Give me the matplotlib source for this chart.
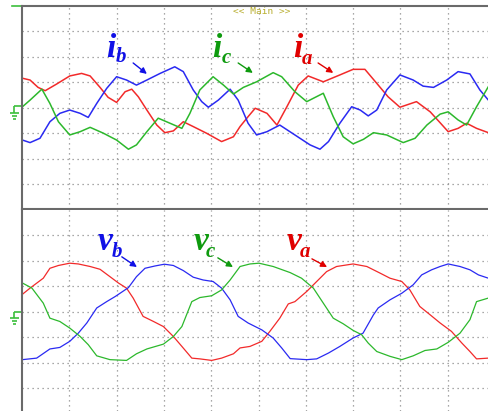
import matplotlib
matplotlib.use("Agg")
import matplotlib.pyplot as plt

# time in scope divisions, amplitude in vertical divisions
t_ia = [0.01, 0.17, 0.34, 0.49, 0.73, 1.01, 1.26, 1.44, 1.65, 1.82, 2.00, 2.18, 2.32, 2.46, 2.64,
        2.85, 3.02, 3.20, 3.41, 3.62, 3.90, 4.22, 4.47, 4.61, 4.78, 4.93, 5.18, 5.39, 5.60, 5.84,
        6.05, 6.37, 6.72, 7.00, 7.25, 7.50, 7.74, 7.99, 8.34, 8.63, 8.84, 9.01, 9.22, 9.40, 9.61, 9.86]
ia = [1.16, 1.09, 0.80, 0.67, 0.93, 1.25, 1.35, 1.25, 0.80, 0.41, 0.21, 0.63, 0.73, 0.43, -0.09,
      -0.68, -0.98, -0.91, -0.55, -0.74, -1.00, -1.33, -1.14, -0.74, -0.35, -0.02, -0.22, -0.68, 0.04, 0.89,
      1.25, 1.02, 1.29, 1.51, 1.51, 0.96, 0.43, 0.02, 0.24, -0.16, -0.59, -0.94, -0.81, -0.61, -0.81, -0.98]

t_ib = [0.01, 0.17, 0.38, 0.59, 0.80, 1.01, 1.23, 1.40, 1.58, 1.79, 2.00, 2.21, 2.42, 2.64, 2.92,
        3.23, 3.41, 3.62, 3.80, 3.94, 4.15, 4.40, 4.57, 4.78, 4.96, 5.18, 5.45, 5.77, 6.09, 6.30,
        6.48, 6.72, 6.97, 7.15, 7.32, 7.50, 7.71, 7.99, 8.27, 8.48, 8.70, 8.98, 9.22, 9.47, 9.68, 9.86]
ib = [-1.27, -1.37, -1.20, -0.55, -0.22, -0.09, -0.22, -0.38, 0.17, 0.76, 1.22, 1.09, 0.89, 1.09, 1.35,
      1.61, 1.42, 0.70, 0.24, 0.02, 0.30, 0.73, 0.30, -0.61, -1.07, -0.94, -0.68, -1.07, -1.46, -1.63,
      -1.33, -0.61, 0.04, -0.09, -0.32, -0.09, 0.70, 1.29, 1.09, 0.85, 0.80, 1.09, 1.42, 1.33, 0.70, 0.30]

t_ic = [0.01, 0.17, 0.42, 0.59, 0.77, 1.01, 1.23, 1.44, 1.72, 2.00, 2.25, 2.42, 2.64, 2.88, 3.13,
        3.38, 3.55, 3.76, 4.04, 4.26, 4.47, 4.68, 4.96, 5.31, 5.49, 5.77, 6.02, 6.37, 6.58, 6.79,
        7.00, 7.22, 7.43, 7.71, 8.06, 8.31, 8.56, 8.84, 9.01, 9.22, 9.40, 9.61, 9.86]
ic = [0.04, 0.30, 0.73, 0.17, -0.55, -1.07, -0.94, -0.77, -1.00, -1.27, -1.63, -1.46, -0.94, -0.41, -0.61,
      -0.81, -0.22, 0.70, 1.22, 0.89, 0.54, 0.80, 1.02, 1.38, 1.22, 0.63, 0.24, 0.57, -0.35, -1.14,
      -1.42, -1.24, -0.98, -1.07, -1.37, -1.20, -0.68, -0.25, -0.16, -0.48, -0.68, 0.04, 0.83]

t_va = [0.01, 0.17, 0.45, 0.59, 0.77, 1.01, 1.19, 1.44, 1.65, 1.86, 2.04, 2.21, 2.35, 2.56, 2.78,
        2.99, 3.20, 3.38, 3.59, 3.76, 4.01, 4.22, 4.47, 4.61, 4.82, 5.07, 5.24, 5.45, 5.63, 5.77,
        6.02, 6.23, 6.44, 6.65, 7.00, 7.29, 7.57, 7.78, 8.03, 8.20, 8.41, 8.63, 8.84, 9.08, 9.30,
        9.47, 9.61, 9.86]
va = [0.69, 0.93, 1.32, 1.71, 1.82, 1.91, 1.88, 1.78, 1.67, 1.38, 1.13, 0.93, 0.54, -0.18, -0.38,
      -0.58, -0.97, -1.36, -1.82, -1.85, -1.91, -1.82, -1.65, -1.42, -1.36, -1.16, -0.77, -0.25, 0.31, 0.40,
      0.80, 1.19, 1.58, 1.78, 1.88, 1.78, 1.52, 1.32, 1.19, 0.86, 0.21, -0.12, -0.44, -0.77, -1.23,
      -1.56, -1.85, -1.82]

t_vb = [0.01, 0.31, 0.59, 0.80, 1.01, 1.19, 1.37, 1.58, 1.79, 1.97, 2.25, 2.42, 2.60, 2.81, 3.01,
        3.20, 3.41, 3.62, 3.83, 4.04, 4.22, 4.40, 4.57, 4.78, 5.07, 5.31, 5.49, 5.67, 6.02, 6.23,
        6.48, 6.72, 7.00, 7.21, 7.43, 7.53, 7.78, 8.03, 8.27, 8.45, 8.66, 8.84, 9.01, 9.26, 9.47,
        9.65, 9.86]
vb = [-1.88, -1.82, -1.46, -1.40, -1.16, -0.84, -0.44, 0.15, 0.40, 0.60, 0.95, 1.38, 1.71, 1.80, 1.87,
      1.82, 1.62, 1.36, 1.25, 1.19, 0.93, 0.47, -0.18, -0.44, -0.71, -1.03, -1.42, -1.84, -1.88, -1.85,
      -1.62, -1.36, -1.03, -0.84, -0.12, 0.15, 0.47, 0.73, 1.06, 1.45, 1.65, 1.78, 1.88, 1.78, 1.65,
      1.45, 1.32]

t_vc = [0.01, 0.21, 0.45, 0.59, 0.80, 1.01, 1.23, 1.40, 1.58, 1.86, 2.21, 2.42, 2.64, 2.99, 3.20,
        3.38, 3.59, 3.76, 4.01, 4.22, 4.40, 4.61, 4.82, 5.01, 5.31, 5.67, 5.91, 6.16, 6.37, 6.58,
        6.79, 7.00, 7.18, 7.32, 7.50, 7.78, 8.03, 8.27, 8.52, 8.77, 9.01, 9.26, 9.47, 9.61, 9.86]
vc = [1.13, 0.93, 0.34, -0.25, -0.38, -0.64, -0.97, -1.29, -1.73, -1.88, -1.91, -1.65, -1.46, -1.27, -0.97,
      -0.58, 0.40, 0.56, 0.63, 0.86, 1.25, 1.78, 1.88, 1.91, 1.78, 1.54, 1.32, 0.93, 0.34, -0.25,
      -0.47, -0.73, -0.90, -1.23, -1.56, -1.75, -1.88, -1.73, -1.52, -1.46, -1.20, -0.84, -0.31, 0.40, 0.54]

RED, BLUE, GREEN = "#f22a2a", "#2a2af2", "#2cb82c"
LBL = {"r": "#e00000", "b": "#1010e6", "g": "#0e9a0e"}
BORDER = "#6a6a6a"
W, H = 488, 411
DIV_X, DIV_Y = 47.3, 25.45
XMAX = (W - 22) / DIV_X


def setup(ax, ybot, ytop, top_edge):
    ax.set_xlim(0, XMAX)
    ax.set_ylim(ybot, ytop)
    ax.set_xticks(range(1, 10))
    ax.set_yticks(range(-3, 4))
    ax.tick_params(length=0, labelbottom=False, labelleft=False)
    ax.grid(True, ls=(0, (1, 3)), lw=0.9, color="#8c8c8c")
    ax.set_axisbelow(True)
    for side in ("right", "bottom", "top"):
        ax.spines[side].set_visible(False)
    ax.spines["left"].set(color=BORDER, lw=1.5)
    if top_edge:
        ax.spines["top"].set(visible=True, color=BORDER, lw=1.5)


def ground(ax, y0):
    # channel offset marker drawn just left of the screen
    kw = dict(color="#3cbf3c", lw=1.2, clip_on=False, solid_capstyle="butt")
    ax.plot([-0.16, 0], [y0, y0], **kw)
    ax.plot([-0.16, -0.16], [y0, y0 - 0.25], **kw)
    ax.plot([-0.25, -0.07], [y0 - 0.25, y0 - 0.25], **kw)
    ax.plot([-0.22, -0.10], [y0 - 0.37, y0 - 0.37], **kw)
    ax.plot([-0.19, -0.13], [y0 - 0.48, y0 - 0.48], **kw)


def tag(ax, x, y, main, sub, color, dx, dy, arrow):
    font = dict(family="Liberation Serif", weight="bold", style="italic", color=color)
    ax.text(x, y, main, fontsize=24, ha="left", va="baseline", **font)
    ax.annotate(sub, (x, y), xytext=(dx, dy), textcoords="offset points",
                fontsize=15, ha="left", va="baseline", **font)
    ax.annotate("", xy=arrow[1], xytext=arrow[0],
                arrowprops=dict(arrowstyle="-|>", color=color, lw=1.0,
                                mutation_scale=9, shrinkA=0, shrinkB=0))


fig = plt.figure(figsize=(W / 100, H / 100), dpi=100)
fig.patch.set_facecolor("white")

ax1 = fig.add_axes([22 / W, 1 - 209.5 / H, (W - 22) / W, 203.5 / H])
setup(ax1, -4, 4, True)
ax1.spines["bottom"].set(visible=True, color=BORDER, lw=1.5)
ax1.plot(t_ia, ia, color=RED, lw=1.1)
ax1.plot(t_ib, ib, color=BLUE, lw=1.1)
ax1.plot(t_ic, ic, color=GREEN, lw=1.1)
ground(ax1, 0.05)
ax1.plot([-0.21, -0.02], [4, 4], color="#3cbf3c", lw=1.2, clip_on=False)

tag(ax1, 1.77, 1.99, "i", "b", LBL["b"], 7.0, -3.6, ((2.35, 1.76), (2.64, 1.33)))
tag(ax1, 4.02, 1.99, "i", "c", LBL["g"], 7.0, -4.3, ((4.57, 1.76), (4.88, 1.37)))
tag(ax1, 5.73, 1.99, "i", "a", LBL["r"], 6.6, -4.6, ((6.26, 1.76), (6.58, 1.37)))

ax2 = fig.add_axes([22 / W, 0, (W - 22) / W, 201 / H])
setup(ax2, 4 - 201 / DIV_Y, 4, False)
ax2.plot(t_va, va, color=RED, lw=0.9)
ax2.plot(t_vb, vb, color=BLUE, lw=0.9)
ax2.plot(t_vc, vc, color=GREEN, lw=0.9)
ground(ax2, 0.0)

tag(ax2, 1.59, 2.43, "v", "b", LBL["b"], 10.8, -5.0, ((2.11, 2.16), (2.43, 1.76)))
tag(ax2, 3.63, 2.43, "v", "c", LBL["g"], 8.4, -5.2, ((4.14, 2.12), (4.46, 1.76)))
tag(ax2, 5.60, 2.43, "v", "a", LBL["r"], 9.4, -5.2, ((6.13, 2.08), (6.45, 1.76)))

fig.text(261.5 / W, 1 - 11 / H, "<< Main >>", ha="center", va="center",
         family="DejaVu Sans Mono", fontsize=6.8, color="#b8ae30")

fig.savefig("out.png", dpi=100)
